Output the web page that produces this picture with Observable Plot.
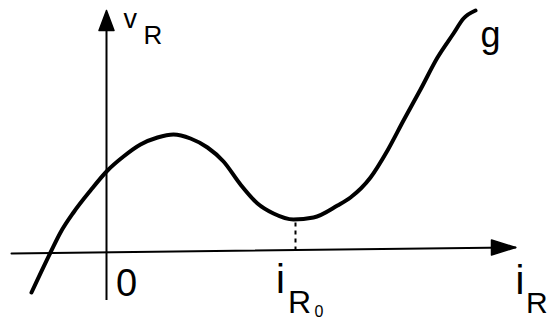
<!DOCTYPE html>
<html>
<head>
<meta charset="utf-8">
<script src="https://cdn.jsdelivr.net/npm/d3@7"></script>
<script src="https://cdn.jsdelivr.net/npm/@observablehq/plot@0.6"></script>
<style>
  html, body { margin: 0; padding: 0; background: white; overflow: hidden; }
</style>
</head>
<body>
<div id="chart"></div>
<script>
// characteristic curve g : v_R as a function of i_R (arbitrary units)
const curveI = [-7.5, -5.6, -4.6, -3.3, -1.6, 0.1, 1.7, 3.4, 5.1, 6.7, 8.4, 10.1, 11.7, 13.4, 15.1, 16.7, 18.7, 20.7, 23.1, 24.4, 26.4, 28.1, 29.7, 31.4, 33.1, 34.7, 35.7, 36.9];
const curveV = [-4.1, -0.1, 1.9, 3.9, 6.1, 8.1, 9.5, 10.7, 11.4, 11.7, 11.3, 10.4, 9.0, 6.7, 4.8, 3.8, 3.2, 3.4, 4.6, 5.4, 7.4, 10.1, 13.1, 16.2, 19.4, 21.8, 23.3, 24.1];

// operating point i_R0 (minimum of the curve)
const iR0 = [18.9];
const vR0 = [3.2];

// axes extents
const hAxisI = [-9.5, 40.9];
const hAxisV = [-0.2, 0.4];
const vAxisV = [-4.9, 24.1];
// arrowhead size (axis units)
const headLenV = 2.0, headLenH = 2.4, headHalf = 0.75;

// labels
const labelText = ["v", "R", "g", "0", "i", "R", "0", "i", "R"];
const labelI    = [1.7, 3.7, 37.4, 0.95, 17.4, 18.15, 20.8, 41.35, 41.96];
const labelV    = [22.4, 20.8, 20.5, -4.4, -4.1, -6.1, -6.5, -4.2, -6.1];
const labelSize = [27, 26, 36, 38, 40, 32, 16, 40, 30];
const labelAnchor = ["start", "start", "start", "start", "middle", "start", "start", "middle", "start"];

const curve = curveI.map((x, k) => ({x, y: curveV[k]}));
const hAxis = hAxisI.map((x, k) => ({x, y: hAxisV[k]}));
const labels = labelText.map((t, k) => ({t, x: labelI[k], y: labelV[k], s: labelSize[k], a: labelAnchor[k]}));

const tipV = {x: 0, y: vAxisV[1]};
const headV = [tipV, {x: -headHalf, y: tipV.y - headLenV}, {x: headHalf, y: tipV.y - headLenV}, tipV];
const tipH = {x: hAxisI[1], y: hAxisV[1]};
const headH = [tipH, {x: tipH.x - headLenH, y: tipH.y - headHalf}, {x: tipH.x - headLenH, y: tipH.y + headHalf}, tipH];

const marks = [
  Plot.line(hAxis, {x: "x", y: "y", stroke: "black", strokeWidth: 2}),
  Plot.ruleX([0], {y1: vAxisV[0], y2: vAxisV[1] - 1, stroke: "black", strokeWidth: 2}),
  Plot.line(headV, {x: "x", y: "y", fill: "black", stroke: "black", strokeWidth: 1.5, strokeLinejoin: "round"}),
  Plot.line(headH, {x: "x", y: "y", fill: "black", stroke: "black", strokeWidth: 1.5, strokeLinejoin: "round"}),
  Plot.ruleX(iR0, {y1: 0.05, y2: vR0[0], stroke: "black", strokeWidth: 2, strokeDasharray: "4,4"}),
  Plot.line(curve, {x: "x", y: "y", curve: "monotone-x", stroke: "black", strokeWidth: 4, strokeLinecap: "round", strokeLinejoin: "round"})
];
labels.forEach(l => {
  marks.push(Plot.text([l], {x: "x", y: "y", text: "t", fontSize: l.s, textAnchor: l.a, lineAnchor: "bottom", fill: "black", fontFamily: "Liberation Sans, Arial, sans-serif"}));
});

const chart = Plot.plot({
  width: 557,
  height: 320,
  margin: 0,
  x: {domain: [-10.6, 45.1], axis: null},
  y: {domain: [-6.9, 25.1], axis: null},
  style: {background: "white"},
  marks
});
document.getElementById("chart").appendChild(chart);
</script>
</body>
</html>
